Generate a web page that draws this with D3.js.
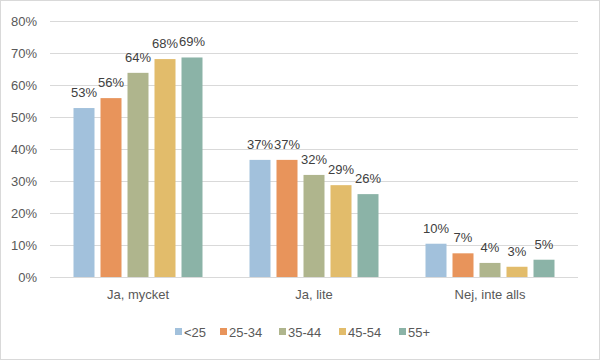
<!DOCTYPE html>
<html>
<head>
<meta charset="utf-8">
<script src="https://cdn.jsdelivr.net/npm/d3@7"></script>
<style>
  body { margin: 0; background: #fff; }
  svg { display: block; font-family: "Liberation Sans", Arial, sans-serif; }
</style>
</head>
<body>
<script>
// chart data
var categories = ["Ja, mycket", "Ja, lite", "Nej, inte alls"];
var ageGroups  = ["<25", "25-34", "35-44", "45-54", "55+"];
var under25    = [52.8, 36.6, 10.4];
var age25to34  = [55.9, 36.6, 7.4];
var age35to44  = [63.8, 31.9, 4.4];
var age45to54  = [68.1, 28.7, 3.2];
var age55plus  = [68.6, 25.9, 5.4];
var yTicks     = [0, 10, 20, 30, 40, 50, 60, 70, 80];

var seriesValues = [under25, age25to34, age35to44, age45to54, age55plus];
var colors = ["#a2c1dc", "#e8945b", "#afb58d", "#e2bc6b", "#8bb3a7"];

var width = 601, height = 361;
var plotLeft = 50, plotRight = 578, plotTop = 21, plotBottom = 277;

var svg = d3.select("body").append("svg")
    .attr("width", width)
    .attr("height", height);

// outer frame
svg.append("rect")
    .attr("x", 0.5).attr("y", 0.5)
    .attr("width", 599).attr("height", 359)
    .style("fill", "white")
    .style("stroke", "#d9d9d9");

var y = d3.scaleLinear().domain([0, 80]).range([plotBottom, plotTop]);

var x0 = d3.scaleBand()
    .domain(categories)
    .range([plotLeft, plotRight]);

var x1 = d3.scaleBand()
    .domain(ageGroups)
    .range([23.5, 152.5])
    .paddingInner(6 / 27)
    .paddingOuter(0);

// gridlines
svg.append("g").selectAll("line")
    .data(yTicks)
    .enter().append("line")
    .attr("x1", plotLeft).attr("x2", plotRight)
    .attr("y1", function(d) { return Math.round(y(d)) + 0.5; })
    .attr("y2", function(d) { return Math.round(y(d)) + 0.5; })
    .style("stroke", "#d9d9d9")
    .style("stroke-width", 1);

// y axis labels
var yAxis = d3.axisLeft(y)
    .tickValues(yTicks)
    .tickSize(0)
    .tickPadding(0)
    .tickFormat(function(d) { return d + "%"; });

var yg = svg.append("g")
    .attr("transform", "translate(37,0)")
    .call(yAxis);
yg.select(".domain").remove();
yg.selectAll("text")
    .style("font-size", "13px")
    .style("fill", "#595959")
    .style("font-family", "Liberation Sans, Arial, sans-serif");

// x axis category labels
var xAxis = d3.axisBottom(x0).tickSize(0).tickPadding(0);
var xg = svg.append("g")
    .attr("transform", "translate(0," + (plotBottom + 13) + ")")
    .call(xAxis);
xg.select(".domain").remove();
xg.selectAll("text")
    .style("font-size", "13px")
    .style("fill", "#595959")
    .style("font-family", "Liberation Sans, Arial, sans-serif");

// bars
var rows = categories.map(function(c, i) {
  return { cat: c, vals: ageGroups.map(function(g, j) {
    return { group: g, idx: j, value: seriesValues[j][i] };
  }) };
});

var groups = svg.selectAll(".grp")
    .data(rows)
    .enter().append("g")
    .attr("class", "grp")
    .attr("transform", function(d) { return "translate(" + x0(d.cat) + ",0)"; });

groups.selectAll("rect")
    .data(function(d) { return d.vals; })
    .enter().append("rect")
    .attr("x", function(d) { return x1(d.group); })
    .attr("width", x1.bandwidth())
    .attr("y", function(d) { return y(d.value); })
    .attr("height", function(d) { return plotBottom - y(d.value); })
    .style("fill", function(d) { return colors[d.idx]; });

groups.selectAll(".lbl")
    .data(function(d) { return d.vals; })
    .enter().append("text")
    .attr("class", "lbl")
    .attr("x", function(d) { return x1(d.group) + x1.bandwidth() / 2; })
    .attr("y", function(d) { return y(d.value) - 11; })
    .attr("text-anchor", "middle")
    .style("font-size", "13px")
    .style("fill", "#404040")
    .text(function(d) { return Math.round(d.value) + "%"; });

// legend
var legendX = [175, 220, 279, 339, 399];
var legend = svg.selectAll(".leg")
    .data(ageGroups)
    .enter().append("g")
    .attr("class", "leg")
    .attr("transform", function(d, i) { return "translate(" + legendX[i] + ",328)"; });

legend.append("rect")
    .attr("width", 7).attr("height", 7)
    .style("fill", function(d, i) { return colors[i]; });

legend.append("text")
    .attr("x", 9)
    .attr("y", 8.5)
    .style("font-size", "13px")
    .style("fill", "#595959")
    .text(function(d) { return d; });
</script>
</body>
</html>
